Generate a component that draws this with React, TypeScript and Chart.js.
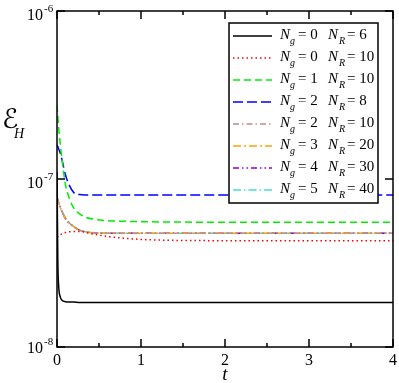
import React, { useEffect, useRef } from "react";
import { Chart, registerables } from "chart.js";

Chart.register(...registerables);

// ---- data ----
const tValues = [0, 0.01, 0.02, 0.04, 0.06, 0.1, 0.15, 0.2, 0.27, 0.35, 0.45, 0.6, 0.8, 1.0, 1.3, 1.7, 2.2, 3.0, 4.0];

const ng0nr6 = [1.1e-7, 3.2e-8, 2.3e-8, 1.98e-8, 1.9e-8, 1.86e-8, 1.85e-8, 1.85e-8, 1.84e-8, 1.84e-8, 1.84e-8, 1.84e-8, 1.84e-8, 1.84e-8, 1.84e-8, 1.84e-8, 1.84e-8, 1.84e-8, 1.84e-8];
const ng0nr10 = [4.5e-8, 4.55e-8, 4.6e-8, 4.66e-8, 4.72e-8, 4.8e-8, 4.85e-8, 4.87e-8, 4.87e-8, 4.8e-8, 4.68e-8, 4.55e-8, 4.44e-8, 4.37e-8, 4.32e-8, 4.3e-8, 4.29e-8, 4.29e-8, 4.29e-8];
const ng1nr10 = [2.76e-7, 2.35e-7, 2.02e-7, 1.6e-7, 1.3e-7, 9.3e-8, 7.6e-8, 6.7e-8, 6.2e-8, 5.9e-8, 5.75e-8, 5.65e-8, 5.6e-8, 5.57e-8, 5.55e-8, 5.53e-8, 5.52e-8, 5.52e-8, 5.52e-8];
const ng2nr8 = [1.6e-7, 1.56e-7, 1.51e-7, 1.42e-7, 1.3e-7, 1.06e-7, 9.1e-8, 8.3e-8, 8.08e-8, 8.04e-8, 8.03e-8, 8.03e-8, 8.03e-8, 8.03e-8, 8.03e-8, 8.03e-8, 8.03e-8, 8.03e-8, 8.03e-8];
const ng2nr10 = [7.8e-8, 7.5e-8, 7.2e-8, 6.75e-8, 6.4e-8, 5.82e-8, 5.45e-8, 5.2e-8, 4.95e-8, 4.84e-8, 4.78e-8, 4.76e-8, 4.75e-8, 4.75e-8, 4.75e-8, 4.75e-8, 4.75e-8, 4.75e-8, 4.75e-8];
const ng3nr20 = [7.8e-8, 7.5e-8, 7.2e-8, 6.75e-8, 6.4e-8, 5.82e-8, 5.45e-8, 5.2e-8, 4.95e-8, 4.84e-8, 4.78e-8, 4.76e-8, 4.75e-8, 4.75e-8, 4.75e-8, 4.75e-8, 4.75e-8, 4.75e-8, 4.75e-8];
const ng4nr30 = [7.8e-8, 7.5e-8, 7.2e-8, 6.75e-8, 6.4e-8, 5.82e-8, 5.45e-8, 5.2e-8, 4.95e-8, 4.84e-8, 4.78e-8, 4.76e-8, 4.75e-8, 4.75e-8, 4.75e-8, 4.75e-8, 4.75e-8, 4.75e-8, 4.75e-8];
const ng5nr40 = [7.8e-8, 7.5e-8, 7.2e-8, 6.75e-8, 6.4e-8, 5.82e-8, 5.45e-8, 5.2e-8, 4.95e-8, 4.84e-8, 4.78e-8, 4.76e-8, 4.75e-8, 4.75e-8, 4.75e-8, 4.75e-8, 4.75e-8, 4.75e-8, 4.75e-8];

const ngLabels = ["0", "0", "1", "2", "2", "3", "4", "5"];
const nrLabels = ["6", "10", "10", "8", "10", "20", "30", "40"];
const seriesValues = [ng0nr6, ng0nr10, ng1nr10, ng2nr8, ng2nr10, ng3nr20, ng4nr30, ng5nr40];

const xMajorTicks = [0, 1, 2, 3, 4];
const xMinorTicks = [0.5, 1.5, 2.5, 3.5];
const yTicks = [1e-8, 1e-7, 1e-6];
const yTickExponents = ["-8", "-7", "-6"];

// ---- styles ----
const colors = ["#000000", "#ff0000", "#00ee00", "#0000ff", "#bc8f8f", "#ffa500", "#9400d3", "#40e0d0"];
const dashes: number[][] = [[], [1.5, 3], [7, 4], [10, 4], [6, 3, 1.5, 3], [8, 3, 2, 3], [6, 3, 1.5, 3, 1.5, 3], [8, 3, 1.5, 3]];

const SERIF = '"Liberation Serif", "DejaVu Serif", serif';

const overlay = {
  id: "overlay",
  afterDatasetsDraw(chart: any) {
    const ctx = chart.ctx as CanvasRenderingContext2D;
    const { left, right, top, bottom } = chart.chartArea;
    const xs = chart.scales.x;
    const ys = chart.scales.y;
    ctx.save();
    ctx.strokeStyle = "#000";
    ctx.fillStyle = "#000";
    ctx.lineWidth = 1.5;
    ctx.setLineDash([]);
    // frame
    ctx.strokeRect(left, top, right - left, bottom - top);
    // x ticks
    ctx.beginPath();
    xMajorTicks.forEach((v) => {
      const px = xs.getPixelForValue(v);
      ctx.moveTo(px, bottom);
      ctx.lineTo(px, bottom - 8);
      ctx.moveTo(px, top);
      ctx.lineTo(px, top + 8);
    });
    xMinorTicks.forEach((v) => {
      const px = xs.getPixelForValue(v);
      ctx.moveTo(px, bottom);
      ctx.lineTo(px, bottom - 4);
      ctx.moveTo(px, top);
      ctx.lineTo(px, top + 4);
    });
    yTicks.forEach((v) => {
      const py = ys.getPixelForValue(v);
      ctx.moveTo(left, py);
      ctx.lineTo(left + 8, py);
      ctx.moveTo(right, py);
      ctx.lineTo(right - 8, py);
    });
    ctx.stroke();
    // x labels
    ctx.font = `16px ${SERIF}`;
    ctx.textAlign = "center";
    ctx.textBaseline = "alphabetic";
    xMajorTicks.forEach((v) => {
      ctx.fillText(String(v), xs.getPixelForValue(v), bottom + 18);
    });
    // y labels
    yTicks.forEach((v, i) => {
      const py = ys.getPixelForValue(v);
      const base = Math.min(py + 9, bottom + 6);
      ctx.font = `16px ${SERIF}`;
      ctx.textAlign = "right";
      ctx.fillText("10", 43, base);
      ctx.font = `11px ${SERIF}`;
      ctx.textAlign = "left";
      ctx.fillText(yTickExponents[i], 44, base - 8);
    });
    // axis titles
    ctx.textAlign = "center";
    ctx.font = `italic 19px ${SERIF}`;
    ctx.fillText("t", (left + right) / 2, 380);
    ctx.textAlign = "left";
    ctx.font = `27px "DejaVu Sans", "DejaVu Serif", sans-serif`;
    ctx.fillText("ℰ", 2, 128);
    ctx.font = `italic 14px ${SERIF}`;
    ctx.fillText("H", 14, 138);

    // legend
    const lx = 229, ly = 23, lw = 149, lh = 180;
    ctx.fillStyle = "#fff";
    ctx.fillRect(lx, ly, lw, lh);
    ctx.strokeStyle = "#000";
    ctx.lineWidth = 1.5;
    ctx.strokeRect(lx, ly, lw, lh);
    chart.data.datasets.forEach((ds: any, i: number) => {
      const cy = 36 + i * 22;
      ctx.strokeStyle = ds.borderColor;
      ctx.lineWidth = 1.5;
      ctx.setLineDash(ds.borderDash || []);
      ctx.beginPath();
      ctx.moveTo(233, cy);
      ctx.lineTo(272, cy);
      ctx.stroke();
      ctx.setLineDash([]);
      ctx.fillStyle = "#000";
      ctx.textAlign = "left";
      const base = cy + 3;
      ctx.font = `italic 15px ${SERIF}`;
      ctx.fillText("N", 280, base);
      ctx.font = `italic 10px ${SERIF}`;
      ctx.fillText("g", 290, base + 5);
      ctx.font = `15px ${SERIF}`;
      ctx.fillText("= " + ngLabels[i], 298, base);
      ctx.font = `italic 15px ${SERIF}`;
      ctx.fillText("N", 328, base);
      ctx.font = `italic 10px ${SERIF}`;
      ctx.fillText("R", 339, base + 5);
      ctx.font = `15px ${SERIF}`;
      ctx.fillText("= " + nrLabels[i], 347, base);
    });
    ctx.restore();
  },
};

export default function App() {
  const ref = useRef<HTMLCanvasElement | null>(null);
  useEffect(() => {
    if (!ref.current) return;
    const datasets = seriesValues.map((vals, i) => ({
      label: `Ng=${ngLabels[i]} NR=${nrLabels[i]}`,
      data: tValues.map((t, j) => ({ x: t, y: vals[j] })),
      borderColor: colors[i],
      borderDash: dashes[i],
      borderWidth: 1.5,
      pointRadius: 0,
      fill: false,
      cubicInterpolationMode: "monotone" as const,
    }));
    const chart = new Chart(ref.current, {
      type: "line",
      data: { datasets },
      options: {
        animation: false,
        responsive: false,
        events: [],
        layout: { padding: { left: 57, right: 6, top: 11, bottom: 36 } },
        plugins: { legend: { display: false }, tooltip: { enabled: false } },
        scales: {
          x: { type: "linear", min: 0, max: 4, display: false },
          y: { type: "logarithmic", min: 1e-8, max: 1e-6, display: false },
        },
      },
      plugins: [overlay],
    });
    return () => chart.destroy();
  }, []);
  return (
    <div style={{ position: "absolute", left: 0, top: 0, width: 399, height: 383, background: "#fff" }}>
      <canvas ref={ref} width={399} height={383} style={{ display: "block" }} />
    </div>
  );
}
